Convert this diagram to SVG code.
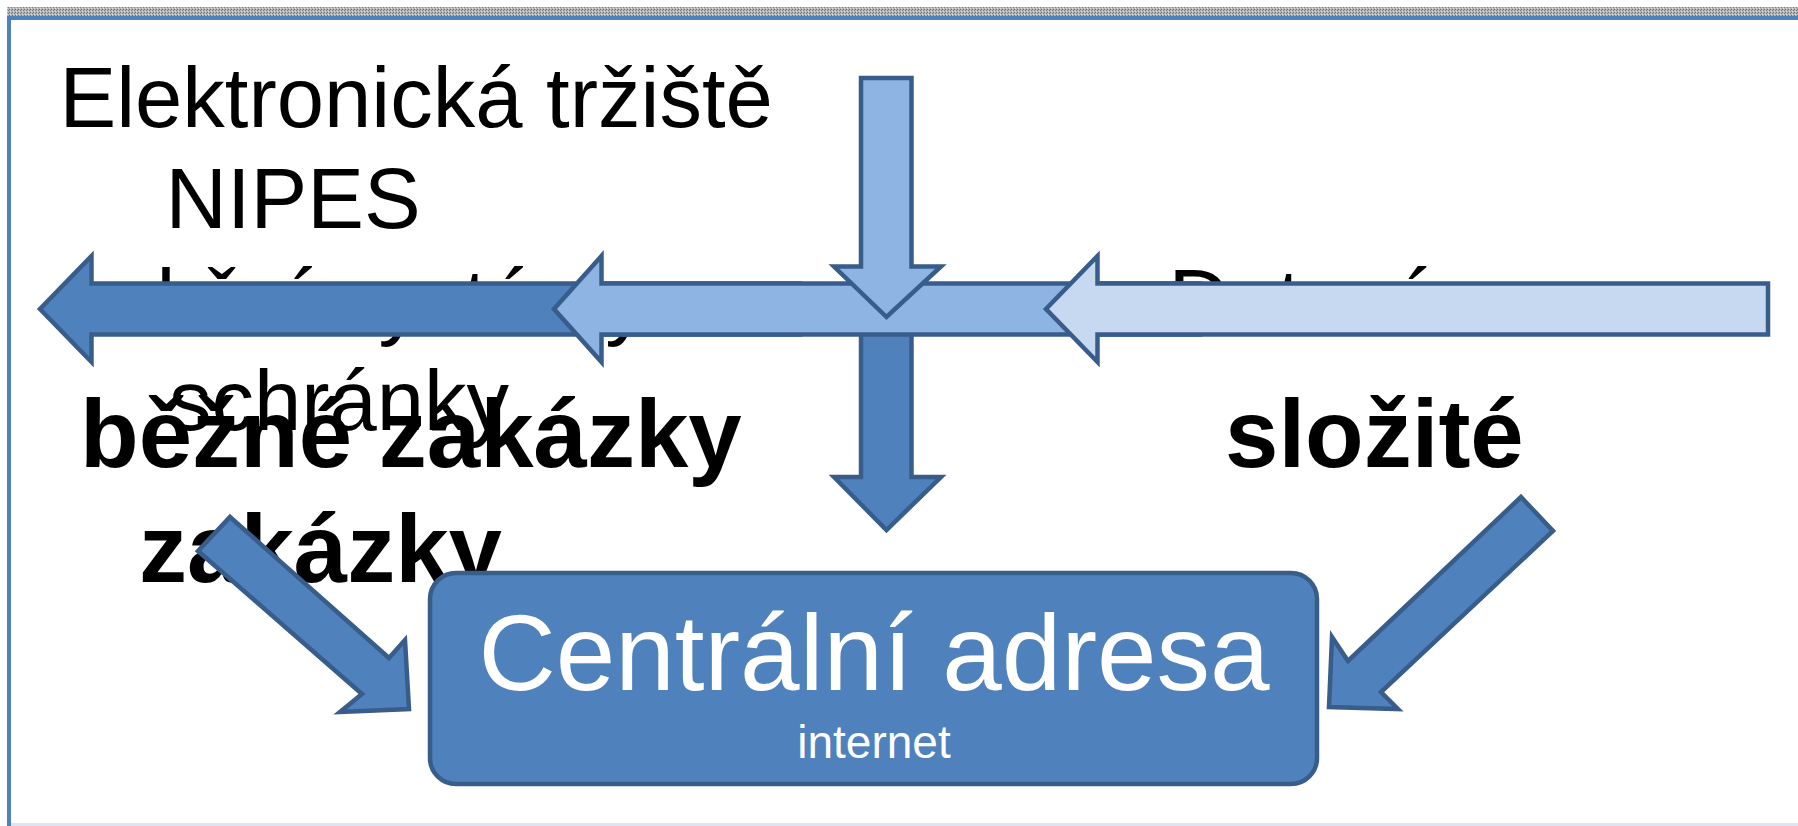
<svg xmlns="http://www.w3.org/2000/svg" width="1798" height="826" viewBox="0 0 1798 826">
<defs>
<pattern id="dots" width="3" height="3" patternUnits="userSpaceOnUse">
<rect width="3" height="3" fill="#b4b4b4"/>
<rect width="1" height="1" fill="#6e6e6e"/>
<rect x="2" y="1" width="1" height="1" fill="#808080"/>
<rect x="1" y="2" width="1" height="1" fill="#e0e0e0"/>
</pattern>
<style>
.t{font-family:"Liberation Sans",Arial,sans-serif;fill:#000}
.reg{font-size:85px}
.bold{font-size:96px;font-weight:bold}
.arr{stroke:#385D8A;stroke-width:4.5;stroke-linejoin:miter}
.dark{fill:#4F81BD}
.mid{fill:#8EB4E3}
.light{fill:#C6D9F1}
.w{font-family:"Liberation Sans",Arial,sans-serif;fill:#fff;text-anchor:middle}
</style>
</defs>
<rect width="1798" height="826" fill="#fff"/>
<g id="frame">
<rect x="7" y="7" width="1791" height="9" fill="url(#dots)"/>
<rect x="7" y="16" width="1791" height="4" fill="#4F81BD"/>
<rect x="7" y="16" width="4" height="810" fill="#4F81BD"/>
<rect x="11" y="823" width="1787" height="3" fill="#DCE6F2"/>
</g>
<g id="text-left">
<text class="t reg" x="59.5" y="127">Elektronická tržiště</text>
<text class="t reg" x="165.5" y="228">NIPES</text>
<text class="t reg" x="62" y="329">aukční systémy</text>
<text class="t reg" x="169" y="430">schránky</text>
</g>
<g id="text-right">
<text class="t reg" x="1168.5" y="329">Datové</text>
</g>
<g id="label-bezne">
<text class="t bold" x="80" y="467">běžné zakázky</text>
<text class="t bold" x="139" y="582">zakázky</text>
</g>
<g id="label-slozite">
<text class="t bold" x="1225" y="467">složité</text>
</g>
<g id="central">
<rect x="430" y="573" width="887" height="211" rx="26" ry="26" fill="#4F81BD" stroke="#385D8A" stroke-width="4.5"/>
<text class="w" x="874" y="690" font-size="107">Centrální adresa</text>
<text class="w" x="874" y="758" font-size="46">internet</text>
</g>
<g id="connectors">
<polygon class="arr dark" points="800,283.5 91.5,283.5 91.5,256 40,309 91.5,362 91.5,334.5 800,334.5"/>
<polygon class="arr dark" points="861,300 911.5,300 911.5,477 941,477 886.5,530 834,477 861,477"/>
<polygon class="arr mid" points="1200,283.5 601.5,283.5 601.5,256 554,309 601.5,362 601.5,334.5 1200,334.5"/>
<polygon class="arr light" points="1768,283.5 1097.5,283.5 1097.5,256 1046,309 1097.5,362 1097.5,334.5 1768,334.5"/>
<polygon class="arr mid" points="861,78 911.5,78 911.5,266.5 941,266.5 886.5,317 834,266.5 861,266.5"/>
<polygon class="arr dark" points="230,517 389,658 405,640 409,709 340,712 362,694 198,551"/>
<polygon class="arr dark" points="1521,497 1553,531 1381,692 1398,709 1329,707 1332,637 1348,661"/>
</g>
</svg>
